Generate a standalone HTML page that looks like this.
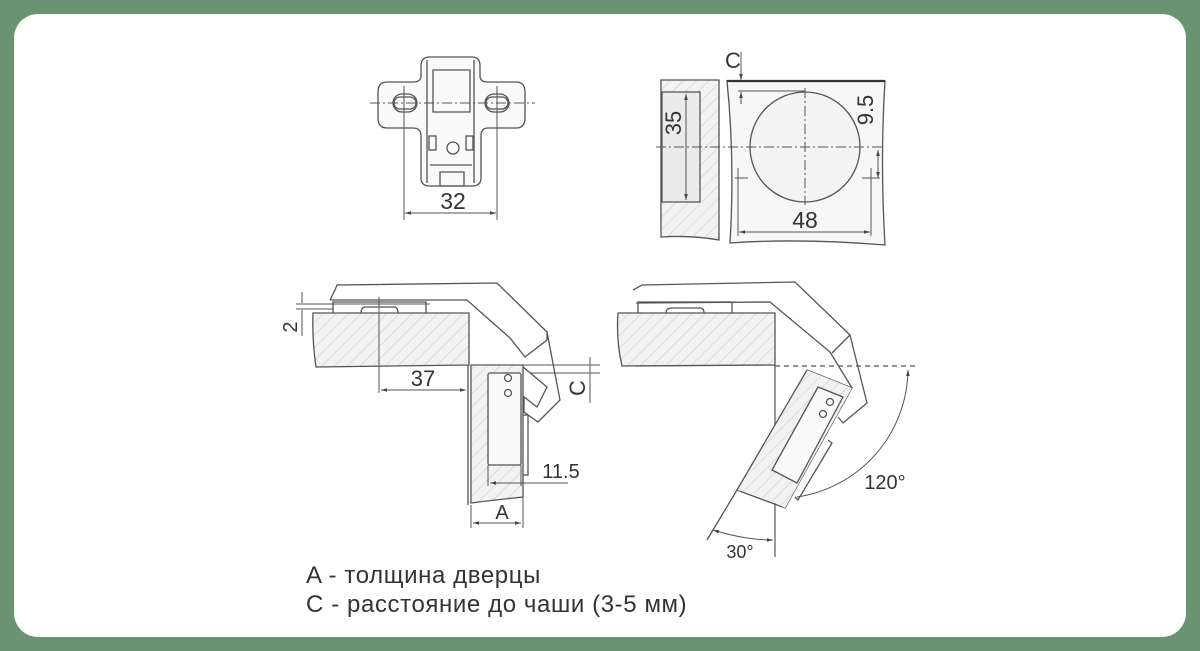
<!DOCTYPE html>
<html><head><meta charset="utf-8">
<style>
html,body{margin:0;padding:0;background:#6a9470;}
body{width:1200px;height:651px;position:relative;overflow:hidden;}
.card{position:absolute;left:14px;top:14px;width:1172px;height:623px;background:#fff;border-radius:24px;}
svg{position:absolute;left:0;top:0;}
text{font-family:"Liberation Sans",sans-serif;fill:#333;}
</style></head><body>
<div class="card"></div>
<svg width="1200" height="651" viewBox="0 0 1200 651">
<defs>
<pattern id="h" width="9" height="9" patternUnits="userSpaceOnUse" patternTransform="rotate(45)">
<rect width="9" height="9" fill="#f2f2f2"/><line x1="0" y1="0" x2="0" y2="9" stroke="#c8c8c8" stroke-width="1"/>
</pattern>
<marker id="a" viewBox="0 0 10 10" refX="10" refY="5" markerWidth="6" markerHeight="6" orient="auto-start-reverse"><path d="M0,2 L10,5 L0,8z" fill="#444"/></marker>
</defs>
<g fill="none" stroke="#555" stroke-width="1.3">
<path d="M430,57 L472,57 Q480,57 480,66 L480,76 Q480,82 488,82 L516,82 Q525,82 525,92 L525,118 Q525,128 516,128 L488,128 Q481,128 481,136 L481,178 Q481,186 472,186 L430,186 Q421,186 421,178 L421,136 Q421,128 413,128 L387,128 Q378,128 378,118 L378,92 Q378,82 387,82 L413,82 Q421,82 421,76 L421,66 Q421,57 430,57z" fill="#fafafa"/>
<path d="M433,70 L470,70 L470,112 L433,112z"/>
<path d="M427,60 L427,183 M474,60 L474,183"/>
<rect x="394" y="97" width="22" height="12" rx="6"/><rect x="393" y="94" width="24" height="18" rx="9"/>
<rect x="486" y="97" width="22" height="12" rx="6"/><rect x="485" y="94" width="24" height="18" rx="9"/>
<rect x="429" y="136" width="7" height="14"/><rect x="466" y="136" width="7" height="14"/>
<circle cx="453" cy="148" r="6"/>
<path d="M430,165 L472,165 M440,172 L464,172 L464,186 L440,186z"/>
<path d="M370,103 L535,103" stroke-dasharray="10,3,2,3" stroke-width="1"/>
<path d="M404,86 L404,220 M497,86 L497,220" stroke-width="1"/>
<path d="M405,213 L496,213" stroke-width="1" marker-start="url(#a)" marker-end="url(#a)"/>

<path d="M661,80 L719,80 L719,240 Q690,235 661,237z" fill="url(#h)"/>
<rect x="662" y="92" width="38" height="110" fill="#ebebeb"/>
<path d="M686,94 L686,200" stroke-width="1" marker-start="url(#a)" marker-end="url(#a)"/>
<path d="M727,81 Q735,160 730,243 Q800,238 885,245 Q880,160 885,81z" fill="#f7f7f7"/>
<path d="M727,81 L885,81" stroke-width="2.2" stroke="#333"/>
<circle cx="805" cy="147" r="55" fill="#f4f4f4"/>
<path d="M656,147 L885,147 M805,88 L805,205" stroke-dasharray="10,3,2,3" stroke-width="1"/>
<path d="M741,52 L741,80" stroke-width="1" marker-end="url(#a)"/>
<path d="M741,104 L741,92" stroke-width="1" marker-end="url(#a)"/>
<path d="M738,91 L805,91" stroke-width="1"/>
<path d="M878,150 L878,178" stroke-width="1" marker-start="url(#a)" marker-end="url(#a)"/>
<path d="M738,168 L738,236 M871,168 L871,236 M735,178 L748,178 M862,178 L880,178" stroke-width="1"/>
<path d="M739,232 L870,232" stroke-width="1" marker-start="url(#a)" marker-end="url(#a)"/>

<path d="M313,313 L469,313 L469,365 L316,367 Q312,340 313,313z" fill="url(#h)"/>
<path d="M471,365 L523,365 L523,497 Q495,500 471,503z" fill="url(#h)"/>
<path d="M468,365 L468,505" />
<rect x="488" y="373" width="33" height="92" rx="2" fill="#fafafa"/>
<circle cx="508" cy="378" r="3.5"/><circle cx="508" cy="393" r="3.5"/>
<path d="M523,415 L528,415 L528,475 L523,475"/>
<path d="M333,313 L333,302 L426,302 L426,313 M361,313 Q361,307 366,307 L394,307 Q398,307 398,313"/>
<path d="M330,300 L335,290 L337,285 L497,283 L547,332 L560,400 L538,422 L524,412 L524,397 L537,407 L547,387 L523,367"/>
<path d="M330,300 L467,300 L510,338 L525,357 L547,340 L547,332"/>
<path d="M302,292 L302,303 M302,310 L302,336 M296,304 L430,304 M296,309 L333,309" stroke-width="1"/>
<path d="M379,297 L379,393" stroke-width="1"/>
<path d="M381,390 L466,390" stroke-width="1" marker-start="url(#a)" marker-end="url(#a)"/>
<path d="M523,365 L600,365 M530,373 L600,373 M590,357 L590,403" stroke-width="1"/>
<path d="M488,465 L488,486 M521,465 L521,486" stroke-width="1"/>
<path d="M490,483 L520,483 L568,483" stroke-width="1" marker-start="url(#a)"/>
<path d="M471,505 L471,528 M523,497 L523,528" stroke-width="1"/>
<path d="M473,523 L521,523" stroke-width="1" marker-start="url(#a)" marker-end="url(#a)"/>

<path d="M618,313 L775,313 L775,365 L622,366 Q616,340 618,313z" fill="url(#h)"/>
<path d="M638,313 L638,302 L732,302 L732,313 M666,313 Q666,308 672,308 L700,308 Q704,308 704,313"/>
<path d="M775,366 L915,366" stroke-dasharray="5,4" stroke-width="1.2"/>
<path d="M775,365 L775,557" stroke-width="1.2"/>
<path d="M807,370 L852,388 L785,508 L737,490 L707,540" fill="none"/>
<path d="M807,370 L852,388 L785,508 Q760,495 737,490z" fill="url(#h)" stroke="none"/>
<path d="M807,370 L737,490"/>
<path d="M818,387 L843,397 L797,483 L772,470z" fill="#fafafa"/>
<circle cx="830" cy="402" r="3.5"/><circle cx="823" cy="414" r="3.5"/>
<path d="M828,440 L832,443 L798,500 L795,497"/>
<path d="M633,290 L642,285 L795,282 L850,335 L867,403 L843,423 L838,417"/>
<path d="M636,303 L770,302 L830,352 L852,388 M850,335 L832,353"/>
<path d="M908,370 A130,130 0 0 1 797,497" stroke-width="1" marker-start="url(#a)"/>
<path d="M713,530 Q745,540 773,540" stroke-width="1" marker-start="url(#a)" marker-end="url(#a)"/>
</g>
<g font-size="22">
<text x="453" y="209" text-anchor="middle" font-size="23">32</text>
<text x="805" y="228" text-anchor="middle" font-size="23">48</text>
<text x="733" y="68" text-anchor="middle">C</text>
<text transform="translate(681,123) rotate(-90)" text-anchor="middle">35</text>
<text transform="translate(873,110) rotate(-90)" text-anchor="middle">9.5</text>
<text transform="translate(297,327) rotate(-90)" text-anchor="middle" font-size="20">2</text>
<text x="423" y="386" text-anchor="middle">37</text>
<text transform="translate(585,388) rotate(-90)" text-anchor="middle">C</text>
<text x="561" y="478" text-anchor="middle" font-size="20">11.5</text>
<text x="502" y="519" text-anchor="middle" font-size="20">A</text>
<text x="885" y="489" text-anchor="middle" font-size="20">120°</text>
<text x="740" y="558" text-anchor="middle" font-size="18">30°</text>
<text x="306" y="583" font-size="24" letter-spacing="0.6">A - толщина дверцы</text>
<text x="306" y="612" font-size="24" letter-spacing="0.6">C - расстояние до чаши (3-5 мм)</text>
</g>
</svg>
</body></html>
